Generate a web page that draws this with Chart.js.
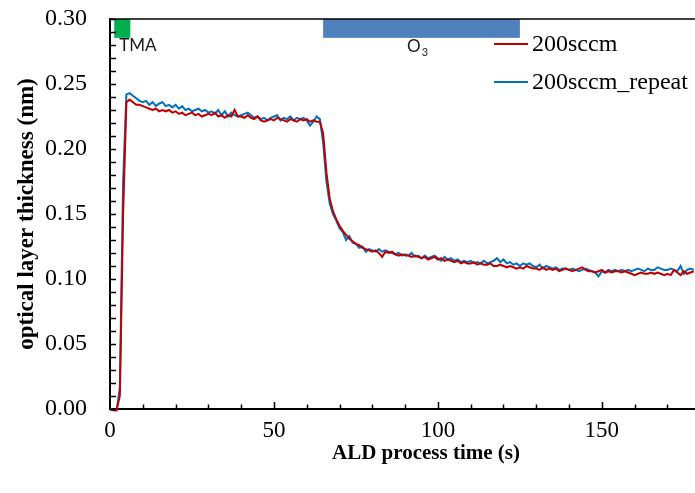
<!DOCTYPE html>
<html>
<head>
<meta charset="utf-8">
<script src="https://cdn.jsdelivr.net/npm/chart.js@4/dist/chart.umd.min.js"></script>
<style>
  html, body { margin: 0; padding: 0; background: #fff; }
  canvas { display: block; }
</style>
</head>
<body>
<canvas id="ald" width="695" height="493"></canvas>
<script>
// process time, s
const time = [
  0, 1, 2, 3, 4, 5, 6, 7, 8, 9, 10, 11, 12, 13, 14, 15, 16, 17, 18, 19,
  20, 21, 22, 23, 24, 25, 26, 27, 28, 29, 30, 31, 32, 33, 34, 35, 36, 37, 38, 39,
  40, 41, 42, 43, 44, 45, 46, 47, 48, 49, 50, 51, 52, 53, 54, 55, 56, 57, 58, 59,
  60, 61, 62, 63, 64, 65, 66, 67, 68, 69, 70, 71, 72, 73, 74, 75, 76, 77, 78, 79,
  80, 81, 82, 83, 84, 85, 86, 87, 88, 89, 90, 91, 92, 93, 94, 95, 96, 97, 98, 99,
  100, 101, 102, 103, 104, 105, 106, 107, 108, 109, 110, 111, 112, 113, 114, 115, 116, 117, 118, 119,
  120, 121, 122, 123, 124, 125, 126, 127, 128, 129, 130, 131, 132, 133, 134, 135, 136, 137, 138, 139,
  140, 141, 142, 143, 144, 145, 146, 147, 148, 149, 150, 151, 152, 153, 154, 155, 156, 157, 158, 159,
  160, 161, 162, 163, 164, 165, 166, 167, 168, 169, 170, 171, 172, 173, 174, 175, 176, 177, 178
];

// optical layer thickness, nm
const run200 = [
  0.000, -0.001, -0.001, 0.010, 0.150, 0.236, 0.238, 0.236, 0.234, 0.234,
  0.233, 0.232, 0.231, 0.230, 0.231, 0.229, 0.230, 0.229, 0.230, 0.228,
  0.229, 0.227, 0.228, 0.226, 0.227, 0.228, 0.226, 0.227, 0.225, 0.226,
  0.227, 0.226, 0.228, 0.225, 0.226, 0.224, 0.226, 0.225, 0.230, 0.225,
  0.225, 0.224, 0.226, 0.224, 0.223, 0.225, 0.222, 0.221, 0.222, 0.223,
  0.222, 0.224, 0.223, 0.222, 0.221, 0.223, 0.222, 0.221, 0.223, 0.222,
  0.223, 0.221, 0.222, 0.221, 0.221, 0.212, 0.182, 0.162, 0.152, 0.146,
  0.141, 0.137, 0.134, 0.131, 0.129, 0.127, 0.126, 0.124, 0.123, 0.122,
  0.121, 0.122, 0.120, 0.117, 0.121, 0.120, 0.121, 0.119, 0.118, 0.119,
  0.118, 0.118, 0.117, 0.118, 0.117, 0.116, 0.117, 0.115, 0.116, 0.117,
  0.115, 0.116, 0.114, 0.115, 0.114, 0.113, 0.114, 0.112, 0.113, 0.112,
  0.112, 0.113, 0.111, 0.112, 0.111, 0.111, 0.112, 0.110, 0.110, 0.111,
  0.110, 0.109, 0.110, 0.109, 0.108, 0.109, 0.108, 0.110, 0.109, 0.108,
  0.108, 0.107, 0.109, 0.107, 0.108, 0.107, 0.108, 0.106, 0.107, 0.108,
  0.107, 0.106, 0.107, 0.108, 0.109, 0.107, 0.106, 0.106, 0.105, 0.106,
  0.107, 0.105, 0.106, 0.105, 0.106, 0.106, 0.105, 0.106, 0.105, 0.104,
  0.103, 0.104, 0.105, 0.104, 0.104, 0.105, 0.104, 0.105, 0.104, 0.103,
  0.104, 0.103, 0.107, 0.105, 0.103, 0.106, 0.104, 0.105, 0.106
];

const run200Repeat = [
  0.000, -0.001, -0.001, 0.016, 0.175, 0.242, 0.243, 0.241, 0.239, 0.237,
  0.236, 0.237, 0.234, 0.236, 0.233, 0.235, 0.236, 0.233, 0.234, 0.232,
  0.234, 0.231, 0.233, 0.230, 0.231, 0.229, 0.230, 0.231, 0.229, 0.230,
  0.228, 0.229, 0.227, 0.230, 0.226, 0.229, 0.225, 0.228, 0.226, 0.225,
  0.226, 0.227, 0.228, 0.226, 0.224, 0.225, 0.223, 0.224, 0.222, 0.224,
  0.225, 0.226, 0.222, 0.224, 0.223, 0.225, 0.222, 0.224, 0.223, 0.224,
  0.222, 0.218, 0.221, 0.225, 0.223, 0.205, 0.175, 0.158, 0.150, 0.145,
  0.139, 0.136, 0.130, 0.133, 0.128, 0.127, 0.124, 0.125, 0.121, 0.123,
  0.122, 0.121, 0.123, 0.121, 0.122, 0.121, 0.120, 0.119, 0.120, 0.118,
  0.119, 0.118, 0.120, 0.117, 0.118, 0.116, 0.118, 0.116, 0.117, 0.118,
  0.116, 0.114, 0.117, 0.115, 0.116, 0.114, 0.115, 0.113, 0.114, 0.113,
  0.114, 0.112, 0.113, 0.112, 0.114, 0.112, 0.113, 0.114, 0.116, 0.113,
  0.115, 0.112, 0.113, 0.111, 0.112, 0.110, 0.112, 0.111, 0.112, 0.110,
  0.109, 0.111, 0.108, 0.110, 0.109, 0.108, 0.109, 0.107, 0.108, 0.108,
  0.107, 0.108, 0.107, 0.106, 0.107, 0.108, 0.107, 0.106, 0.105, 0.102,
  0.106, 0.105, 0.107, 0.106, 0.107, 0.106, 0.107, 0.106, 0.107, 0.106,
  0.107, 0.108, 0.107, 0.106, 0.108, 0.107, 0.107, 0.109, 0.108, 0.107,
  0.107, 0.108, 0.107, 0.106, 0.110, 0.104, 0.107, 0.108, 0.107
];

// precursor pulse windows (s) shown as bars along the top
const pulseNames = ['TMA', 'O3'];
const pulseStart = [1.3, 65.0];
const pulseEnd = [6.2, 125.0];
const pulseColors = ['#00B050', '#4F81BD'];
const pulseBand = [0.2855, 0.30];

const seriesNames = ['200sccm', '200sccm_repeat'];
const seriesColors = ['#C00000', '#0070C0'];

const serif = '"Liberation Serif", "Times New Roman", serif';
const sans = 'Lato, "Open Sans", sans-serif';

const toPoints = (values) => values.map((v, i) => ({ x: time[i], y: v }));

const decorations = {
  id: 'decorations',
  beforeDatasetsDraw(chart) {
    const { ctx, scales: { x, y } } = chart;
    ctx.save();
    pulseNames.forEach((name, i) => {
      const x0 = x.getPixelForValue(pulseStart[i]);
      const x1 = x.getPixelForValue(pulseEnd[i]);
      const y0 = y.getPixelForValue(pulseBand[1]);
      const y1 = y.getPixelForValue(pulseBand[0]);
      ctx.fillStyle = pulseColors[i];
      ctx.fillRect(x0, y0, x1 - x0, y1 - y0);
    });

    // pulse labels
    ctx.fillStyle = '#1a1a1a';
    ctx.textBaseline = 'middle';
    const labelY = y.getPixelForValue(pulseBand[0]) + 8;
    ctx.font = '17px ' + sans;
    ctx.textAlign = 'left';
    ctx.fillText('TMA', x.getPixelForValue(pulseStart[0]) + 5, labelY);

    const oMid = x.getPixelForValue((pulseStart[1] + pulseEnd[1]) / 2);
    ctx.font = '17px ' + sans;
    const wO = ctx.measureText('O').width;
    ctx.font = '11px ' + sans;
    const w3 = ctx.measureText('3').width;
    const ox = oMid - (wO + w3 + 1) / 2 - 4;
    ctx.font = '17px ' + sans;
    ctx.fillText('O', ox, labelY + 1);
    ctx.font = '11px ' + sans;
    ctx.fillText('3', ox + wO + 1, labelY + 7);
    ctx.restore();
  },
  afterDraw(chart) {
    const { ctx, chartArea: area, scales: { x, y } } = chart;
    ctx.save();
    ctx.strokeStyle = '#000';

    // top frame line
    ctx.lineWidth = 1.5;
    ctx.beginPath();
    ctx.moveTo(area.left, area.top);
    ctx.lineTo(area.right, area.top);
    ctx.stroke();

    // inward ticks, minor every 0.01 on y and every 10 s on x
    ctx.lineWidth = 1.5;
    ctx.beginPath();
    for (let k = 0; k <= 30; k++) {
      const py = Math.round(y.getPixelForValue(k / 100)) + 0.5;
      ctx.moveTo(area.left, py);
      ctx.lineTo(area.left + 6, py);
    }
    for (let k = 10; k <= x.max; k += 10) {
      const px = Math.round(x.getPixelForValue(k)) + 0.5;
      const len = k % 50 === 0 ? 7 : 4.5;
      ctx.moveTo(px, area.bottom);
      ctx.lineTo(px, area.bottom - len);
    }
    ctx.stroke();

    // legend
    ctx.font = '24px ' + serif;
    ctx.textAlign = 'left';
    ctx.textBaseline = 'middle';
    const legendRows = [44, 82];
    seriesNames.forEach((name, i) => {
      const ly = legendRows[i];
      ctx.strokeStyle = seriesColors[i];
      ctx.lineWidth = 2;
      ctx.beginPath();
      ctx.moveTo(494, ly);
      ctx.lineTo(528, ly);
      ctx.stroke();
      ctx.fillStyle = '#000';
      ctx.fillText(name, 532, ly + 1);
    });

    // axis titles
    ctx.fillStyle = '#000';
    ctx.font = 'bold 21px ' + serif;
    ctx.textAlign = 'center';
    ctx.fillText('ALD process time (s)', 426, 454);
    ctx.translate(27, (area.top + area.bottom) / 2);
    ctx.rotate(-Math.PI / 2);
    ctx.font = 'bold 23px ' + serif;
    ctx.fillText('optical layer thickness (nm)', 0, 0);
    ctx.restore();
  }
};

new Chart(document.getElementById('ald').getContext('2d'), {
  type: 'line',
  data: {
    datasets: [
      {
        label: seriesNames[0],
        data: toPoints(run200),
        borderColor: seriesColors[0],
        borderWidth: 2,
        pointRadius: 0,
        tension: 0,
        clip: false
      },
      {
        label: seriesNames[1],
        data: toPoints(run200Repeat),
        borderColor: seriesColors[1],
        borderWidth: 2,
        pointRadius: 0,
        tension: 0,
        clip: false
      }
    ]
  },
  options: {
    responsive: false,
    animation: false,
    layout: { padding: { top: 19, right: 0, left: 0, bottom: 0 } },
    plugins: {
      legend: { display: false },
      tooltip: { enabled: false }
    },
    scales: {
      x: {
        type: 'linear',
        min: 0,
        max: 178.4,
        grid: { display: false },
        border: { display: true, color: '#000', width: 2 },
        ticks: {
          stepSize: 50,
          includeBounds: false,
          padding: 0,
          color: '#000',
          font: { family: serif, size: 23 },
          maxRotation: 0
        },
        afterFit(scale) {
          scale.height = 84;
          scale.paddingLeft = 0;
          scale.paddingRight = 0;
        }
      },
      y: {
        min: 0,
        max: 0.30,
        grid: { display: false },
        border: { display: true, color: '#000', width: 2 },
        ticks: {
          stepSize: 0.05,
          padding: 15,
          color: '#000',
          font: { family: serif, size: 24 },
          callback: (v) => v.toFixed(2)
        },
        afterFit(scale) {
          scale.width = 110;
          scale.paddingTop = 0;
          scale.paddingBottom = 0;
        }
      }
    }
  },
  plugins: [decorations]
});
</script>
</body>
</html>
